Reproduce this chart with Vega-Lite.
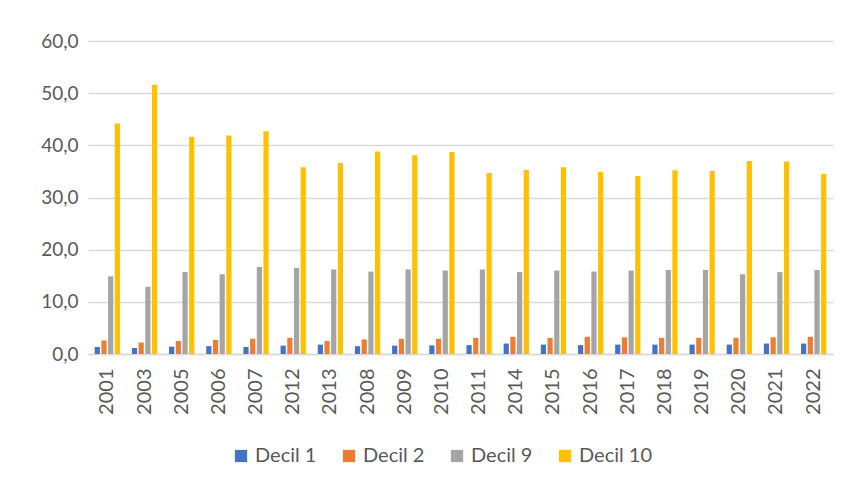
{
  "$schema": "https://vega.github.io/schema/vega-lite/v6.json",
  "width": 745,
  "height": 313,
  "autosize": "none",
  "padding": {"left": 88, "top": 41, "right": 15, "bottom": 134},
  "background": "white",
  "config": {
    "locale": {"number": {"decimal": ",", "thousands": ".", "grouping": [3], "currency": ["", " €"]}},
    "font": "Lato",
    "view": {"stroke": null}
  },
  "data": {
    "values": [
      {"year": "2001", "d1": 1.35, "d2": 2.6, "d9": 14.9, "d10": 44.2},
      {"year": "2003", "d1": 1.15, "d2": 2.2, "d9": 12.9, "d10": 51.6},
      {"year": "2005", "d1": 1.4, "d2": 2.5, "d9": 15.7, "d10": 41.6},
      {"year": "2006", "d1": 1.5, "d2": 2.7, "d9": 15.3, "d10": 41.9},
      {"year": "2007", "d1": 1.35, "d2": 2.9, "d9": 16.7, "d10": 42.7},
      {"year": "2012", "d1": 1.6, "d2": 3.1, "d9": 16.5, "d10": 35.8},
      {"year": "2013", "d1": 1.8, "d2": 2.5, "d9": 16.2, "d10": 36.6},
      {"year": "2008", "d1": 1.5, "d2": 2.8, "d9": 15.8, "d10": 38.8},
      {"year": "2009", "d1": 1.6, "d2": 2.9, "d9": 16.2, "d10": 38.1},
      {"year": "2010", "d1": 1.65, "d2": 2.9, "d9": 16.0, "d10": 38.7},
      {"year": "2011", "d1": 1.7, "d2": 3.1, "d9": 16.2, "d10": 34.7},
      {"year": "2014", "d1": 2.0, "d2": 3.3, "d9": 15.7, "d10": 35.25},
      {"year": "2015", "d1": 1.8, "d2": 3.1, "d9": 16.0, "d10": 35.8},
      {"year": "2016", "d1": 1.7, "d2": 3.3, "d9": 15.8, "d10": 34.9},
      {"year": "2017", "d1": 1.8, "d2": 3.2, "d9": 16.0, "d10": 34.1},
      {"year": "2018", "d1": 1.8, "d2": 3.1, "d9": 16.1, "d10": 35.2},
      {"year": "2019", "d1": 1.8, "d2": 3.1, "d9": 16.1, "d10": 35.1},
      {"year": "2020", "d1": 1.8, "d2": 3.1, "d9": 15.3, "d10": 37.0},
      {"year": "2021", "d1": 2.0, "d2": 3.2, "d9": 15.7, "d10": 36.9},
      {"year": "2022", "d1": 2.0, "d2": 3.3, "d9": 16.1, "d10": 34.5}
    ]
  },
  "transform": [
    {"fold": ["d1", "d2", "d9", "d10"], "as": ["key", "value"]},
    {"lookup": "key", "from": {"data": {"values": [
      {"key": "d1", "serie": "Decil 1"},
      {"key": "d2", "serie": "Decil 2"},
      {"key": "d9", "serie": "Decil 9"},
      {"key": "d10", "serie": "Decil 10"}
    ]}, "key": "key", "fields": ["serie"]}}
  ],
  "mark": {"type": "bar"},
  "encoding": {
    "x": {
      "field": "year", "type": "nominal", "sort": null,
      "scale": {"paddingInner": 0.32, "paddingOuter": 0.18},
      "axis": {
        "title": null, "labelAngle": -90, "labelFontSize": 20, "labelColor": "#595959",
        "labelPadding": 14, "ticks": false, "domainColor": "#D9D9D9", "domainWidth": 1.5
      }
    },
    "xOffset": {"field": "serie", "type": "nominal", "sort": ["Decil 1", "Decil 2", "Decil 9", "Decil 10"], "scale": {"paddingInner": 0.22}},
    "y": {
      "field": "value", "type": "quantitative",
      "scale": {"domain": [0, 60], "nice": false},
      "axis": {
        "title": null, "values": [0, 10, 20, 30, 40, 50, 60], "format": ".1f",
        "labelFontSize": 19, "labelColor": "#595959", "labelPadding": 10,
        "ticks": false, "domain": false, "gridColor": "#D9D9D9", "gridWidth": 1.5
      }
    },
    "color": {
      "field": "serie", "type": "nominal",
      "sort": ["Decil 1", "Decil 2", "Decil 9", "Decil 10"],
      "scale": {"domain": ["Decil 1", "Decil 2", "Decil 9", "Decil 10"], "range": ["#4472C4", "#ED7D31", "#A5A5A5", "#FFC000"]},
      "legend": {
        "title": null, "orient": "none", "direction": "horizontal",
        "legendX": 143, "legendY": 405,
        "symbolType": "square", "symbolSize": 150, "symbolStrokeWidth": 0, "symbolOffset": 0,
        "labelFontSize": 20, "labelColor": "#595959", "labelOffset": 4, "columnPadding": 22
      }
    }
  }
}
